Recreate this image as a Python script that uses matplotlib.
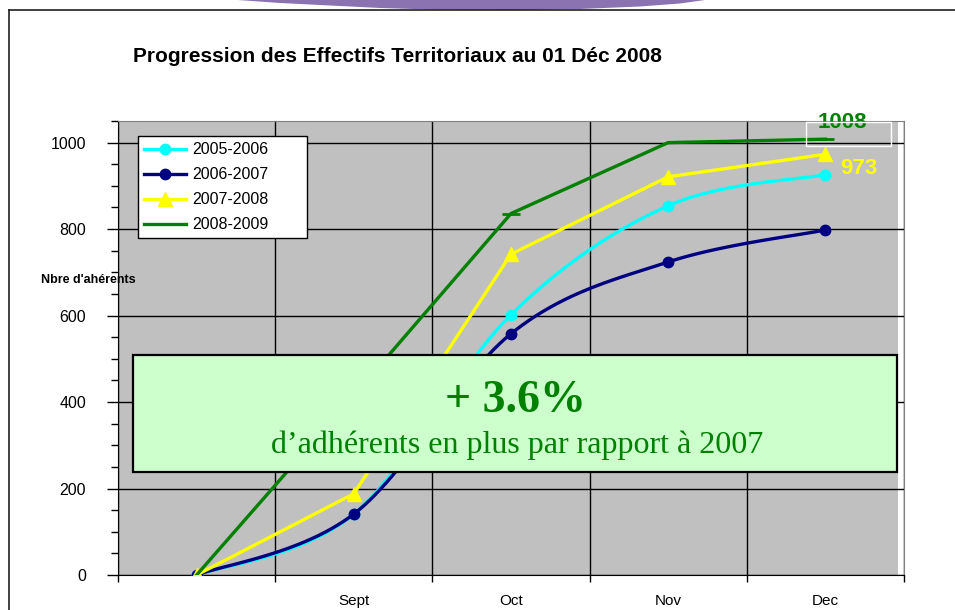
import numpy as np
import matplotlib
matplotlib.use("Agg")
import matplotlib.pyplot as plt
from matplotlib.patches import Rectangle, Polygon
from matplotlib.lines import Line2D

plt.rcParams['font.family'] = ['Liberation Sans', 'DejaVu Sans']

# data
months = ['', 'Sept', 'Oct', 'Nov', 'Dec']
s2005 = [0, 141, 602, 854, 926]
s2006 = [0, 141, 558, 724, 798]
s2007 = [0, 188, 742, 921, 973]
s2008 = [0, 415, 836, 1000, 1008]
series_names = ['2005-2006', '2006-2007', '2007-2008', '2008-2009']

W, H = 955, 610


def fx(px):
    return px / W


def fy(py):
    return 1 - py / H


def excel_smooth(xs, ys, n=30):
    # bezier smoothing like Excel "smoothed line"
    pts = np.column_stack([xs, ys]).astype(float)
    out = [pts[0]]
    for i in range(len(pts) - 1):
        p0 = pts[i - 1] if i > 0 else pts[i]
        p1 = pts[i]
        p2 = pts[i + 1]
        p3 = pts[i + 2] if i + 2 < len(pts) else pts[i + 1]
        c1 = p1 + (p2 - p0) / 6
        c2 = p2 - (p3 - p1) / 6
        t = np.linspace(0, 1, n)[1:, None]
        seg = (1 - t)**3 * p1 + 3 * (1 - t)**2 * t * c1 + 3 * (1 - t) * t**2 * c2 + t**3 * p2
        out.extend(seg)
    out = np.array(out)
    marks = [i * (n - 1) for i in range(len(pts))]
    return out[:, 0], out[:, 1], marks


fig = plt.figure(figsize=(W / 100, H / 100), dpi=100)

# decoration: purple shape at top, frame
purple = Polygon([(fx(238), fy(-2)), (fx(238), fy(0)), (fx(280), fy(3)), (fx(330), fy(5.5)),
                  (fx(380), fy(8)), (fx(430), fy(9.5)), (fx(510), fy(10)), (fx(580), fy(9)),
                  (fx(640), fy(6.5)), (fx(680), fy(3.5)), (fx(705), fy(0)), (fx(705), fy(-2))],
                 closed=True, transform=fig.transFigure, facecolor='#8A73B0', edgecolor='none')
fig.patches.append(purple)
fig.lines.append(Line2D([fx(9), fx(9)], [fy(10), fy(H + 5)], transform=fig.transFigure,
                        color='#202020', lw=1.2))
fig.lines.append(Line2D([fx(9), fx(W + 5)], [fy(10), fy(10)], transform=fig.transFigure,
                        color='#202020', lw=1.2))

ax = fig.add_axes([fx(118), fy(575), fx(904) - fx(118), fy(121) - fy(575)])
ax.set_facecolor('#C0C0C0')
x = np.arange(len(months))

ax.add_patch(Rectangle((0.9924, 0), 0.0076, 1, transform=ax.transAxes,
                       facecolor='white', edgecolor='none', zorder=0.5))

xs, ys, mk = excel_smooth(x, s2005)
ax.plot(xs, ys, color='#00FFFF', lw=2.4, marker='o', markevery=mk, markersize=7.5,
        label=series_names[0], zorder=3)
xs, ys, mk = excel_smooth(x, s2006)
ax.plot(xs, ys, color='#000080', lw=2.4, marker='o', markevery=mk, markersize=7.5,
        label=series_names[1], zorder=3)
ax.plot(x, s2007, color='#FFFF00', lw=2.4, marker='^', markersize=10,
        label=series_names[2], zorder=3)
ax.plot(x, s2008, color='#008000', lw=2.4, marker='_', markersize=13, mew=2,
        markevery=[2, 4], label=series_names[3], zorder=3)

ax.set_xlim(-0.5, len(months) - 0.5)
ax.set_ylim(0, 1050)
ax.set_xticks(np.arange(-0.5, len(months), 1.0))
ax.set_xticklabels([])
ax.set_xticks(x, minor=True)
ax.set_xticklabels(months, minor=True, fontsize=11)
ax.tick_params(axis='x', which='major', direction='out', length=5, width=1)
ax.tick_params(axis='x', which='minor', length=0, pad=14)
ax.set_yticks(np.arange(0, 1001, 200))
ax.set_yticks(np.arange(0, 1051, 50), minor=True)
ax.tick_params(axis='y', which='major', direction='out', length=8, width=1, pad=15, labelsize=11.5)
ax.tick_params(axis='y', which='minor', direction='out', length=5, width=1)
ax.grid(True, which='major', color='black', lw=1, zorder=1)
ax.set_axisbelow(True)
for side in ['left', 'bottom']:
    ax.spines[side].set_color('black')
for side in ['top', 'right']:
    ax.spines[side].set_color('#808080')

# data labels
ax.annotate('1008', (4, s2008[4]), xytext=(12, 12), textcoords='offset points',
            ha='center', va='center', fontsize=16, fontweight='bold', color='#008000', zorder=5)
fig.patches.append(Rectangle((fx(806), fy(146)), fx(891) - fx(806), fy(122) - fy(146),
                             transform=fig.transFigure, facecolor='none',
                             edgecolor='white', lw=1))
ax.annotate('973', (4, s2007[4]), xytext=(11, -10), textcoords='offset points',
            ha='left', va='center', fontsize=16, fontweight='bold', color='#FFFF00', zorder=5)

leg = ax.legend(loc='upper left',
                bbox_to_anchor=(fx(138), fy(237), fx(307) - fx(138), fy(136) - fy(237)),
                bbox_transform=fig.transFigure, mode='expand',
                borderaxespad=0, fontsize=11.5, fancybox=False, framealpha=1, edgecolor='black',
                handlelength=2.6, labelspacing=0.62, borderpad=0.4, handletextpad=0.4)
leg.get_frame().set_linewidth(1)

fig.text(fx(133), fy(57), 'Progression des Effectifs Territoriaux au 01 Déc 2008',
         fontsize=15, fontweight='bold', ha='left', va='center')
fig.text(fx(88), fy(280), "Nbre d'ahérents", fontsize=9, fontweight='bold', ha='center', va='center')

# highlight box
fig.patches.append(Rectangle((fx(133), fy(472)), fx(897) - fx(133), fy(355) - fy(472),
                             transform=fig.transFigure, facecolor='#CCFFCC',
                             edgecolor='black', lw=1.6, zorder=10))
fig.text(fx(515), fy(412), '+ 3.6%', fontsize=33, fontweight='bold', color='#008000',
         family='Liberation Serif', ha='center', va='baseline', zorder=11)
fig.text(fx(517), fy(453), 'd\u2019adhérents en plus par rapport à 2007', fontsize=23,
         color='#008000', family='Liberation Serif', ha='center', va='baseline', zorder=11)

fig.savefig('out.png', dpi=100)
